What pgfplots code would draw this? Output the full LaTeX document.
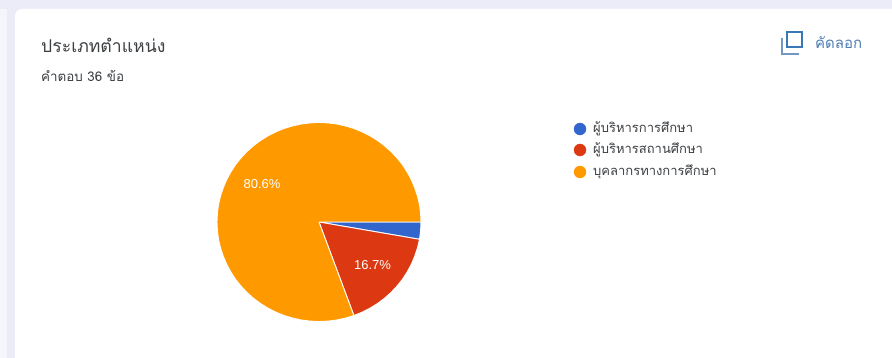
\documentclass[border=0pt]{standalone}
\usepackage{pgfplots}
\pgfplotsset{compat=1.18}
\usepackage{fontspec}
\setmainfont{Liberation Sans}
\newfontfamily\thaifont[Script=Thai]{Loma}
\definecolor{bgl}{HTML}{ECEBF8}
\definecolor{bgs}{HTML}{F6F5FC}
\definecolor{pblue}{HTML}{3366CC}
\definecolor{pred}{HTML}{DC3912}
\definecolor{porange}{HTML}{FF9900}
\definecolor{txt}{HTML}{3C4043}
\definecolor{linkc}{HTML}{4F7DB5}
\definecolor{iconc}{HTML}{3A78B5}
\begin{document}
\begin{tikzpicture}
\begin{axis}[
  scale only axis, width=892pt, height=358pt,
  xmin=-319, xmax=573, ymin=-222, ymax=136, y dir=reverse,
  hide axis, clip=true,
]
% page and card
\fill[bgl] (axis cs:-319,-222) rectangle (axis cs:573,136);
\fill[bgs] (axis cs:-319,-213) rectangle (axis cs:-312,136);
\fill[white, rounded corners=7pt] (axis cs:-304,-213) rectangle (axis cs:620,160);
% pie: shares 2.8, 16.7, 80.6 of the turn, drawn clockwise from east
\addplot[fill=pblue, draw=white, line width=0.9pt] coordinates {
 (0,0) (102,0) (101.6,8.7) (100.5,17.3) (0,0)};
\addplot[fill=pred, draw=white, line width=0.9pt] coordinates {
 (0,0) (100.5,17.3) (98.5,25.8) (95.8,34) (92.4,42.1) (88.3,49.75) (83.6,57.1) (78.1,64)
 (72.1,70.4) (65.6,76.2) (58.5,81.5) (51,86.2) (43.1,90.2) (34.9,93.5) (0,0)};
\addplot[fill=porange, draw=white, line width=0.9pt] coordinates {
 (0,0) (34.9,93.5) (26.4,96.1) (17.7,98) (8.9,99.1) (0,99.5) (-8.9,99.1) (-17.7,98) (-26.4,96.1)
 (-34.9,93.5) (-43.1,90.2) (-51,86.2) (-58.5,81.5) (-65.6,76.2) (-72.1,70.4) (-78.1,64)
 (-83.6,57.1) (-88.3,49.75) (-92.4,42.1) (-95.8,34) (-98.5,25.8) (-100.5,17.3) (-101.6,8.7)
 (-102,0) (-101.6,-8.7) (-100.5,-17.3) (-98.5,-25.8) (-95.8,-34) (-92.4,-42.1) (-88.3,-49.75)
 (-83.6,-57.1) (-78.1,-64) (-72.1,-70.4) (-65.6,-76.2) (-58.5,-81.5) (-51,-86.2) (-43.1,-90.2)
 (-34.9,-93.5) (-26.4,-96.1) (-17.7,-98) (-8.9,-99.1) (0,-99.5) (8.9,-99.1) (17.7,-98)
 (26.4,-96.1) (34.9,-93.5) (43.1,-90.2) (51,-86.2) (58.5,-81.5) (65.6,-76.2) (72.1,-70.4)
 (78.1,-64) (83.6,-57.1) (88.3,-49.75) (92.4,-42.1) (95.8,-34) (98.5,-25.8) (100.5,-17.3)
 (101.6,-8.7) (102,0) (0,0)};
% percent labels
\node[white, font=\fontsize{13}{14}\selectfont] at (axis cs:-57,-38) {80.6\%};
\node[white, font=\fontsize{13}{14}\selectfont] at (axis cs:53.5,43) {16.7\%};
% legend
\addplot[only marks, mark=*, mark size=6pt, color=pblue, mark options={solid, draw=pblue, fill=pblue}] coordinates {(261,-93)};
\addplot[only marks, mark=*, mark size=6pt, color=pred, mark options={solid, draw=pred, fill=pred}] coordinates {(261,-72)};
\addplot[only marks, mark=*, mark size=6pt, color=porange, mark options={solid, draw=porange, fill=porange}] coordinates {(261,-50)};
\node[anchor=west, inner sep=0pt, text=txt, font=\thaifont\fontsize{13}{14}\selectfont] at (axis cs:274,-93) {ผู้บริหารการศึกษา};
\node[anchor=west, inner sep=0pt, text=txt, font=\thaifont\fontsize{13}{14}\selectfont] at (axis cs:274,-72) {ผู้บริหารสถานศึกษา};
\node[anchor=west, inner sep=0pt, text=txt, font=\thaifont\fontsize{13}{14}\selectfont] at (axis cs:274,-50) {บุคลากรทางการศึกษา};
% heading
\node[anchor=west, inner sep=0pt, text=txt, font=\thaifont\fontsize{17.6}{18}\selectfont] at (axis cs:-278,-177) {ประเภทตำแหน่ง};
\node[anchor=west, inner sep=0pt, text=txt, font=\thaifont\fontsize{13.4}{14}\selectfont] at (axis cs:-278,-146) {คำตอบ 36 ข้อ};
% copy button
\draw[iconc, line width=2.4pt] (axis cs:468,-190) rectangle (axis cs:483,-175);
\draw[linkc!80, line width=1.4pt] (axis cs:463,-184) -- (axis cs:463,-168) -- (axis cs:480,-168);
\node[anchor=west, inner sep=0pt, text=linkc, font=\thaifont\fontsize{15}{16}\selectfont] at (axis cs:496,-179) {คัดลอก};
\end{axis}
\end{tikzpicture}
\end{document}
